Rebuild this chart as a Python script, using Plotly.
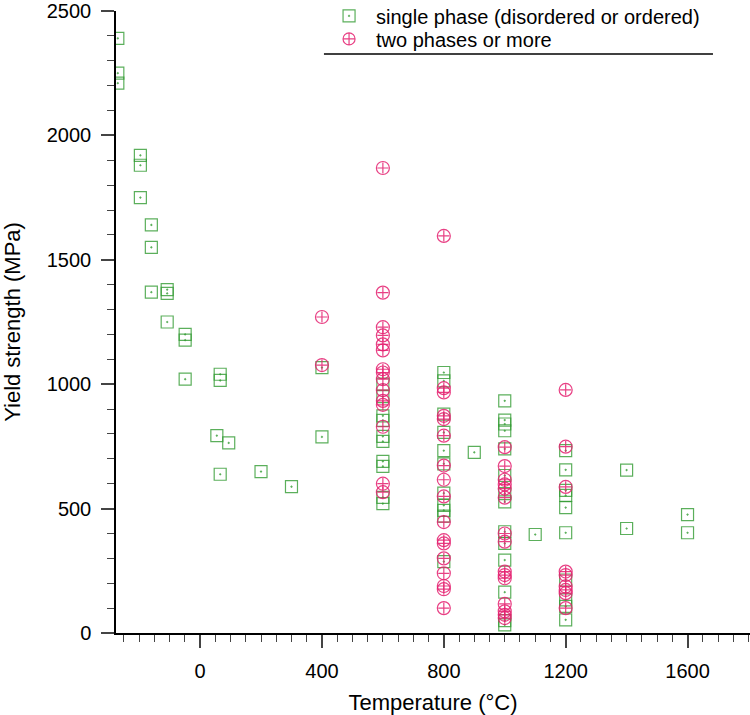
import plotly.graph_objects as go

# single phase (disordered or ordered)
single_T = [-270, -270, -270,
            -196, -196, -196,
            -160, -160, -160,
            -108, -108, -108,
            -49, -49, -49,
            66, 66, 66, 55, 94, 200, 300,
            400, 400,
            600, 600, 600, 600, 600, 600, 600, 600, 600, 600,
            800, 800, 800, 800, 800, 800, 800, 800, 800, 800, 800,
            900,
            1000, 1000, 1000, 1000, 1000, 1000, 1000, 1000, 1000, 1000, 1000, 1000, 1000, 1000,
            1100,
            1200, 1200, 1200, 1200, 1200, 1200, 1200, 1200, 1200, 1200,
            1400, 1400,
            1600, 1600]
single_Y = [2390, 2250, 2210,
            1920, 1880, 1750,
            1640, 1550, 1370,
            1380, 1365, 1250,
            1200, 1177, 1020,
            1040, 1015, 638, 793, 764, 649, 588,
            1067, 788,
            1000, 950, 873, 855, 790, 770, 690, 670, 545, 520,
            1047, 1013, 880, 806, 733, 680, 562, 513, 493, 470, 287,
            726,
            933, 856, 840, 813, 740, 633, 560, 527, 407, 360, 293, 164, 50, 33,
            396,
            733, 656, 573, 553, 504, 403, 213, 133, 107, 53,
            655, 420,
            476, 403]

# two phases or more
multi_T = [400, 400,
           600, 600, 600, 600, 600, 600, 600, 600, 600, 600, 600, 600, 600, 600, 600,
           800, 800, 800, 800, 800, 800, 800, 800, 800, 800, 800, 800, 800, 800, 800, 800, 800,
           1000, 1000, 1000, 1000, 1000, 1000, 1000, 1000, 1000, 1000, 1000, 1000, 1000, 1000, 1000,
           1200, 1200, 1200, 1200, 1200, 1200, 1200, 1200, 1200]
multi_Y = [1270, 1077,
           1869, 1368, 1229, 1196, 1160, 1136, 1060, 1047, 1020, 976, 933, 917, 829, 600, 566,
           1596, 984, 967, 873, 860, 793, 673, 616, 549, 446, 373, 360, 300, 240, 189, 176, 100,
           747, 671, 616, 597, 580, 544, 400, 367, 247, 233, 220, 117, 87, 73, 60,
           977, 749, 587, 247, 233, 187, 173, 160, 100]

GREEN = "rgba(50,155,50,0.8)"
PINK = "rgba(228,30,110,0.85)"
FONT = "Liberation Sans, Arial, sans-serif"

fig = go.Figure()
fig.add_trace(go.Scatter(
    x=single_T, y=single_Y, mode="markers", name="single phase (disordered or ordered)",
    legend="legend",
    marker=dict(symbol="square-open-dot", size=12, color=GREEN, line=dict(width=1.2, color=GREEN)),
))
fig.add_trace(go.Scatter(
    x=multi_T, y=multi_Y, mode="markers", name="two phases or more",
    showlegend=False,
    marker=dict(symbol="circle-open", size=13, color=PINK, line=dict(width=1.2, color=PINK)),
))
fig.add_trace(go.Scatter(
    x=multi_T, y=multi_Y, mode="markers", name="two phases or more",
    showlegend=False, hoverinfo="skip",
    marker=dict(symbol="cross-thin-open", size=8, color=PINK, line=dict(width=1.2, color=PINK)),
))
fig.add_trace(go.Scatter(
    x=[None], y=[None], mode="markers", name="two phases or more", legend="legend2",
    marker=dict(symbol="circle-cross-open", size=12, color=PINK, line=dict(width=1.2, color=PINK)),
))

leg_common = dict(x=0.325, xanchor="left", yanchor="top", font=dict(size=20),
                  bgcolor="rgba(0,0,0,0)", itemwidth=44)

fig.update_layout(
    width=750, height=715,
    margin=dict(l=116, r=0, t=11, b=82, autoexpand=False),
    paper_bgcolor="white", plot_bgcolor="white",
    font=dict(family=FONT, size=20, color="black"),
    showlegend=True,
    legend=dict(y=1.0235, **leg_common),
    legend2=dict(y=0.9865, **leg_common),
    xaxis=dict(range=[-276, 1805], tick0=0, dtick=400, ticks="outside", ticklen=13,
               tickwidth=1.5, showline=True, linecolor="black", linewidth=1.5,
               showgrid=False, zeroline=False, ticklabelstandoff=6, automargin=False,
               ticklabeloverflow="allow", tickfont=dict(size=20),
               minor=dict(dtick=50, tick0=0, ticks="outside", ticklen=7, tickwidth=1.2),
               title=dict(text="Temperature (°C)", font=dict(size=22), standoff=16)),
    yaxis=dict(range=[0, 2500], tick0=0, dtick=500, ticks="outside", ticklen=13,
               tickwidth=1.5, showline=True, linecolor="black", linewidth=1.5,
               showgrid=False, zeroline=False, ticklabelstandoff=6, automargin=False,
               ticklabeloverflow="allow", tickfont=dict(size=20),
               minor=dict(dtick=100, tick0=0, ticks="outside", ticklen=7, tickwidth=1.2),
               title=dict(text="Yield strength (MPa)", font=dict(size=22), standoff=24)),
    shapes=[dict(type="line", xref="paper", yref="paper", x0=0.328, x1=0.9416,
                 y0=0.9309, y1=0.9309, line=dict(color="black", width=1.5))],
)

fig.write_html("out.html", config={"displayModeBar": False},
               post_script="document.body.style.margin='0';document.body.style.overflow='hidden';")
